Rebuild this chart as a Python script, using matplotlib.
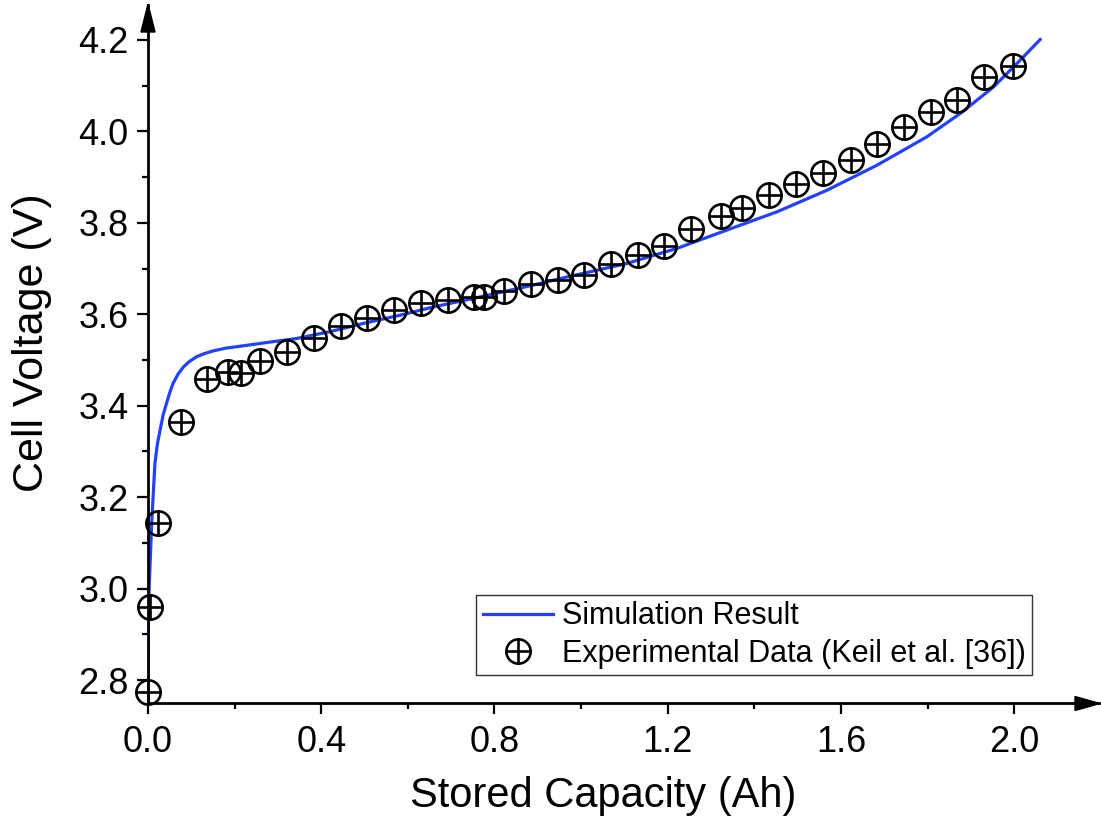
import matplotlib
matplotlib.use("Agg")
import matplotlib.pyplot as plt
from matplotlib.ticker import MultipleLocator, FormatStrFormatter
from matplotlib.patches import Polygon

plt.rcParams['font.family'] = ['Liberation Sans', 'DejaVu Sans']

# Simulation curve (Ah, V)
sim_cap = [0.0, 0.001, 0.0085, 0.016, 0.022, 0.028, 0.035, 0.043, 0.050, 0.058,
           0.070, 0.082, 0.096, 0.112, 0.130, 0.151, 0.180, 0.212, 0.280, 0.343,
           0.420, 0.497, 0.582, 0.659, 0.767, 0.890, 0.951, 1.105, 1.221, 1.336,
           1.452, 1.567, 1.683, 1.798, 1.875, 1.952, 2.013, 2.060]
sim_volt = [2.778, 2.96, 3.143, 3.274, 3.318, 3.347, 3.380, 3.406, 3.428, 3.449,
            3.470, 3.485, 3.497, 3.507, 3.514, 3.520, 3.526, 3.530, 3.539, 3.547,
            3.562, 3.580, 3.598, 3.616, 3.638, 3.664, 3.678, 3.711, 3.744, 3.784,
            3.824, 3.871, 3.926, 3.988, 4.039, 4.097, 4.155, 4.201]

# Experimental data (Keil et al.)
exp_cap = [0.0, 0.005, 0.023, 0.076, 0.136, 0.185, 0.215, 0.259, 0.321, 0.383,
           0.446, 0.506, 0.568, 0.631, 0.693, 0.753, 0.776, 0.822, 0.884, 0.947,
           1.007, 1.069, 1.131, 1.192, 1.254, 1.323, 1.372, 1.434, 1.496, 1.559,
           1.623, 1.683, 1.746, 1.808, 1.868, 1.930, 1.997]
exp_volt = [2.774, 2.96, 3.143, 3.364, 3.458, 3.473, 3.471, 3.497, 3.517, 3.548,
            3.574, 3.591, 3.609, 3.624, 3.631, 3.637, 3.637, 3.650, 3.666, 3.674,
            3.687, 3.709, 3.729, 3.749, 3.786, 3.814, 3.832, 3.862, 3.884, 3.908,
            3.937, 3.972, 4.009, 4.042, 4.068, 4.118, 4.144]

W, H = 1101, 818
fig = plt.figure(figsize=(W / 100, H / 100), dpi=100)
L, R, T, B = 148, 1099, 5, 703
ax = fig.add_axes([L / W, 1 - B / H, (R - L) / W, (B - T) / H])

blue = '#2342FF'
line_sim, = ax.plot(sim_cap, sim_volt, color=blue, lw=2.3, zorder=2)
mk_o, = ax.plot(exp_cap, exp_volt, ls='none', marker='o', ms=17.5, mfc='none',
                mec='black', mew=1.9, zorder=3, clip_on=False)
mk_p, = ax.plot(exp_cap, exp_volt, ls='none', marker='+', ms=17.5,
                mec='black', mew=1.9, zorder=3, clip_on=False)

ax.set_xlim(0, (R - L) / 433.1)
ax.set_ylim(2.8 - (B - 680) / 457.4, 4.2 + (40 - T) / 457.4)

ax.xaxis.set_major_locator(MultipleLocator(0.4))
ax.xaxis.set_minor_locator(MultipleLocator(0.2))
ax.yaxis.set_major_locator(MultipleLocator(0.2))
ax.yaxis.set_minor_locator(MultipleLocator(0.1))
ax.xaxis.set_major_formatter(FormatStrFormatter('%.1f'))
ax.yaxis.set_major_formatter(FormatStrFormatter('%.1f'))

for s in ['top', 'right']:
    ax.spines[s].set_visible(False)
for s in ['left', 'bottom']:
    ax.spines[s].set_linewidth(2.0)

ax.tick_params(which='major', direction='out', length=8, width=1.6, labelsize=26, pad=6)
ax.tick_params(which='minor', direction='out', length=4, width=1.6)
ax.tick_params(axis='x', which='major', pad=8)

ax.set_xlabel('Stored Capacity (Ah)', fontsize=30)
ax.set_ylabel('Cell Voltage (V)', fontsize=31)
ax.xaxis.set_label_coords((603 - L) / (R - L), -(807 - B) / (B - T), transform=ax.transAxes)
ax.yaxis.set_label_coords(-(148 - 12) / (R - L), (B - 343) / (B - T), transform=ax.transAxes)
ax.xaxis.label.set_va('baseline')
ax.yaxis.label.set_va('top')

def fig_pt(x, y):
    return (x / W, 1 - y / H)

# Arrow heads
fig.patches.append(Polygon([fig_pt(148, 4), fig_pt(141, 32), fig_pt(155, 32)],
                           closed=True, transform=fig.transFigure, color='black', zorder=5))
fig.patches.append(Polygon([fig_pt(1100, 703.5), fig_pt(1075, 696.5), fig_pt(1075, 710.5)],
                           closed=True, transform=fig.transFigure, color='black', zorder=5))

leg = ax.legend([line_sim, (mk_o, mk_p)],
                ['Simulation Result', 'Experimental Data (Keil et al. [36])'],
                loc='lower right', bbox_to_anchor=fig_pt(1032, 675),
                bbox_transform=fig.transFigure, fontsize=22, frameon=True,
                fancybox=False, edgecolor='#333333', borderaxespad=0,
                handlelength=2.3, handletextpad=0.3, borderpad=0.2,
                labelspacing=0.25, markerscale=1.0)
leg.get_frame().set_linewidth(1.0)
leg.get_frame().set_alpha(1.0)

fig.savefig('out.png', dpi=100)
